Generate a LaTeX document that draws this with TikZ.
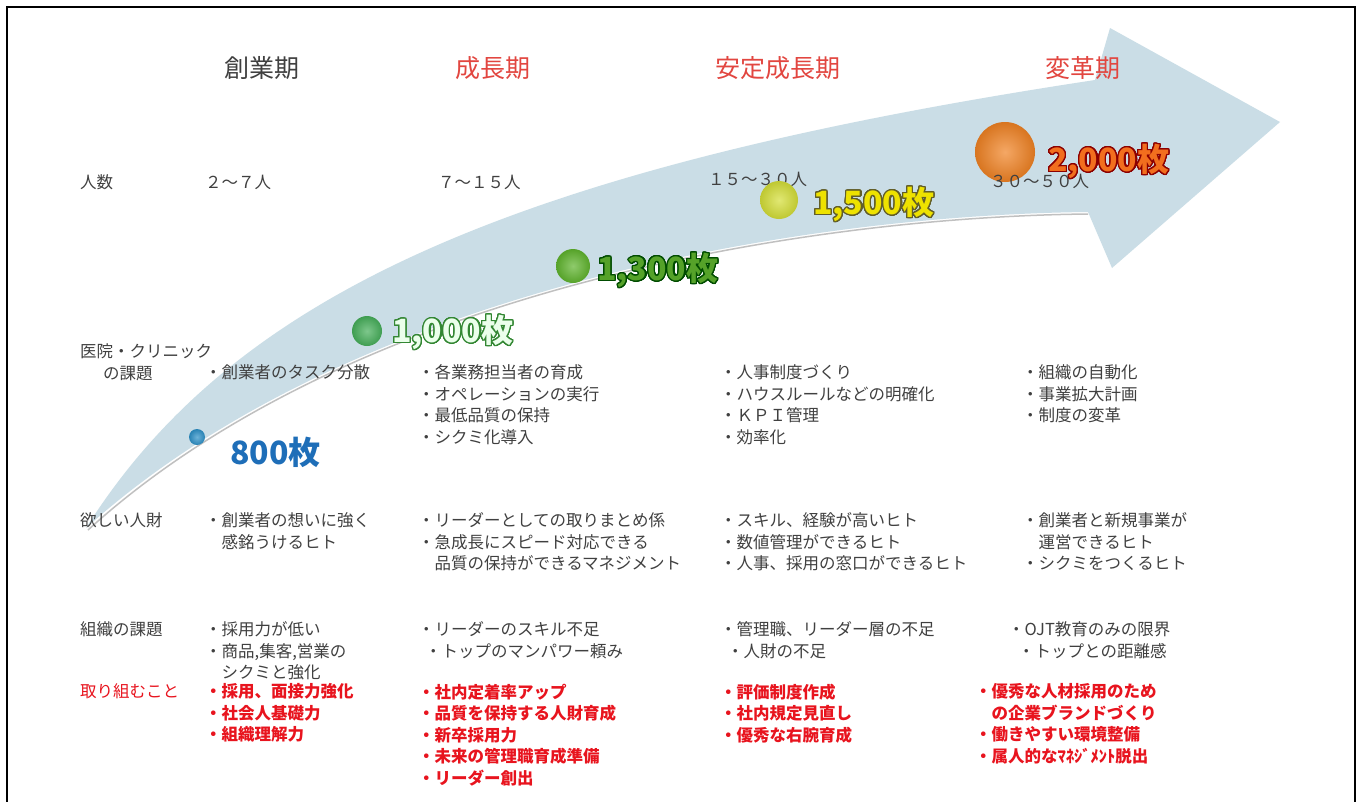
\documentclass[tikz,border=0pt]{standalone}
\usepackage{fontspec}
\setmainfont{Noto Sans CJK JP}
\usepackage{contour}
\contournumber{32}
\usetikzlibrary{shadings}
\definecolor{arrowblue}{RGB}{202,221,230}
\definecolor{bodygray}{RGB}{64,64,64}
\definecolor{hdred}{RGB}{226,70,64}
\definecolor{actred}{RGB}{232,20,30}
\definecolor{n800}{RGB}{30,110,184}
\definecolor{b800}{RGB}{45,145,200}
\definecolor{b1000}{RGB}{70,175,90}
\definecolor{b1300}{RGB}{95,180,45}
\definecolor{b1500}{RGB}{212,222,55}
\definecolor{b2000}{RGB}{240,130,35}
\tikzset{
  body/.style={anchor=north west, inner sep=0pt, align=left, text=bodygray,
    font=\fontsize{16.5}{21.5}\selectfont},
  act/.style={body, text=actred, font=\fontsize{16.5}{21.5}\selectfont\bfseries},
  hdr/.style={inner sep=0pt, font=\fontsize{25}{30}\selectfont},
  amount/.style={anchor=west, inner sep=0pt, font=\fontsize{32}{36}\selectfont\bfseries},
  stageball/.style 2 args={circle, inner sep=0pt, minimum size=#1, shade,
    inner color=#2!70!white, outer color=#2!90!black}
}
\begin{document}
\begin{tikzpicture}[x=1pt,y=-1pt]
\useasboundingbox (0,0) rectangle (1362,801);
\fill[white] (0,0) rectangle (1362,801);
% frame
\draw[line width=2pt] (7,808) -- (7,7) -- (1355,7) -- (1355,808);
% big curved arrow
\fill[arrowblue] (86,528) .. controls (230,300) and (500,170) .. (1095,80)
  -- (1110,28) -- (1280,122) -- (1112,268) -- (1088,212)
  .. controls (800,215) and (350,290) .. (86,528) -- cycle;
\draw[black!35, line width=1.5pt, opacity=0.7] (1088,214) .. controls (800,217) and (350,292) .. (88,530);
% headers
\node[hdr, text=bodygray] (h1) at (262,68) {創業期};
\node[hdr, text=hdred] (h2) at (493,68) {成長期};
\node[hdr, text=hdred] (h3) at (778,68) {安定成長期};
\node[hdr, text=hdred] (h4) at (1083,68) {変革期};
% row labels
\node[body] (r1) at (80,174.5) {人数};
\node[body] (r2) at (80,343.5) {医院・クリニック\\\hspace*{23pt}の課題};
\node[body] (r3) at (80,512.5) {欲しい人財};
\node[body] (r4) at (80,621.5) {組織の課題};
\node[body, text=actred] (r5) at (80,683.5) {取り組むこと};
% people counts
\node[body] (p1) at (205,174.5) {２～７人};
\node[body] (p2) at (438,174.5) {７～１５人};
\node[body] (p3) at (708,171.5) {１５～３０人};
% balls
\node[stageball={16pt}{b800}] (g1) at (197,437) {};
\node[stageball={30pt}{b1000}] (g2) at (367,331) {};
\node[stageball={34pt}{b1300}] (g3) at (573,266) {};
\node[stageball={38pt}{b1500}] (g4) at (779,200) {};
\node[stageball={60pt}{b2000}] (g5) at (1005,152) {};
\node[body] (p4) at (990,173.5) {３０～５０人};
% amounts
\node[amount, text=n800] (a1) at (230,452) {800枚};
\node[amount] (a2) at (392,333) {\contourlength{1.2pt}\contour{black!45!green!60!gray}{\textcolor{white!92!green}{1,000枚}}};
\node[amount] (a3) at (597,271) {\contourlength{1.2pt}\contour{green!30!black}{\textcolor{b1300!90!black}{1,300枚}}};
\node[amount] (a4) at (813,205) {\contourlength{1.2pt}\contour{olive!60!black}{\textcolor{yellow!85!olive}{1,500枚}}};
\node[amount] (a5) at (1048,162) {\contourlength{1.2pt}\contour{red!55!black}{\textcolor{b2000!85!red}{2,000枚}}};
% issues
\node[body] (i1) at (205,364.5) {・創業者のタスク分散};
\node[body] (i2) at (418,364.5) {・各業務担当者の育成\\・オペレーションの実行\\・最低品質の保持\\・シクミ化導入};
\node[body] (i3) at (720,364.5) {・人事制度づくり\\・ハウスルールなどの明確化\\・ＫＰＩ管理\\・効率化};
\node[body] (i4) at (1022,364.5) {・組織の自動化\\・事業拡大計画\\・制度の変革};
% wanted people
\node[body] (w1) at (205,512.5) {・創業者の想いに強く\\　感銘うけるヒト};
\node[body] (w2) at (418,512.5) {・リーダーとしての取りまとめ係\\・急成長にスピード対応できる\\　品質の保持ができるマネジメント};
\node[body] (w3) at (720,512.5) {・スキル、経験が高いヒト\\・数値管理ができるヒト\\・人事、採用の窓口ができるヒト};
\node[body] (w4) at (1022,512.5) {・創業者と新規事業が\\　運営できるヒト\\・シクミをつくるヒト};
% organisation issues
\node[body] (o1) at (205,621.5) {・採用力が低い\\・商品,集客,営業の\\　シクミと強化};
\node[body] (o2) at (418,621.5) {・リーダーのスキル不足\\\hspace*{7pt}・トップのマンパワー頼み};
\node[body] (o3) at (720,621.5) {・管理職、リーダー層の不足\\\hspace*{7pt}・人財の不足};
\node[body] (o4) at (1008,621.5) {・OJT教育のみの限界\\\hspace*{10pt}・トップとの距離感};
% actions
\node[act] (t1) at (205,683.5) {・採用、面接力強化\\・社会人基礎力\\・組織理解力};
\node[act] (t2) at (418,683.5) {・社内定着率アップ\\・品質を保持する人財育成\\・新卒採用力\\・未来の管理職育成準備\\・リーダー創出};
\node[act] (t3) at (720,683.5) {・評価制度作成\\・社内規定見直し\\・優秀な右腕育成};
\node[act] (t4) at (975,683.5) {・優秀な人材採用のため\\　の企業ブランドづくり\\・働きやすい環境整備\\・属人的なﾏﾈｼﾞﾒﾝﾄ脱出};
\end{tikzpicture}
\end{document}
